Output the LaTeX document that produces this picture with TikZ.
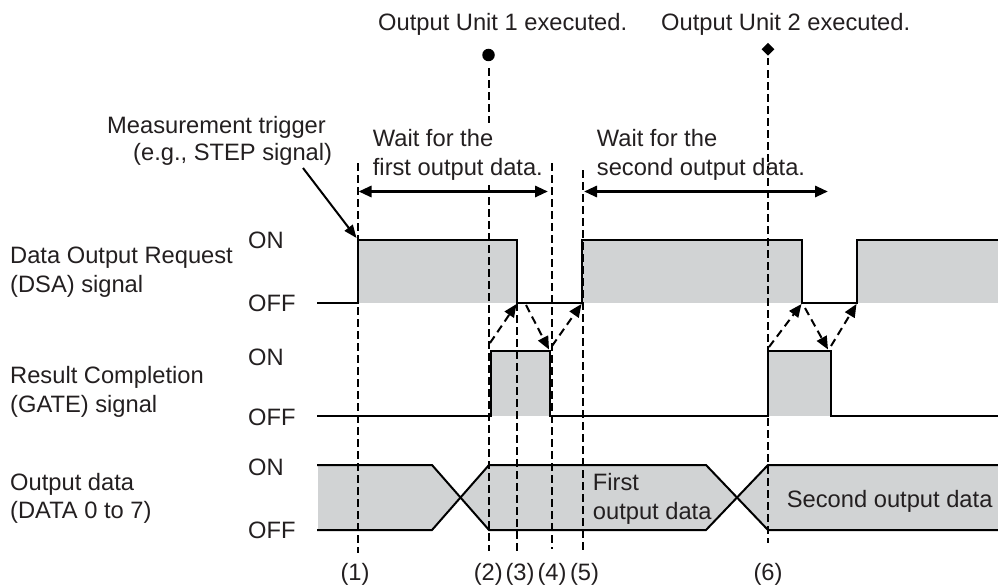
\documentclass[tikz,border=0pt]{standalone}
\usepackage{fontspec}
\setmainfont{Liberation Sans}
\usetikzlibrary{arrows.meta,shapes.geometric}
\definecolor{wavegray}{RGB}{209,211,212}
\definecolor{txt}{RGB}{35,31,32}
\begin{document}
\begin{tikzpicture}[x=1pt,y=-1pt,
  lbl/.style={inner sep=0pt, anchor=base west, text=txt, font=\fontsize{23.7}{28}\selectfont},
  num/.style={inner sep=0pt, anchor=base, text=txt, font=\fontsize{23.7}{28}\selectfont},
  wave/.style={line width=2pt, line join=miter, line cap=rect},
  band/.style={fill=wavegray},
  guide/.style={line width=1.9pt, dash pattern=on 7.5pt off 4.5pt},
  hand/.style={line width=2pt, dash pattern=on 8pt off 5pt, -{Triangle[length=13pt,width=11pt]}},
  span/.style={line width=3pt, {Triangle[length=13pt,width=11pt]}-{Triangle[length=13pt,width=11pt]}},
  trig/.style={line width=2pt, -{Triangle[length=13pt,width=10pt]}},
]
\useasboundingbox (0,0) rectangle (998,586);

% ---------- gray bands ----------
\fill[band] (358,240) rectangle (517,303);
\fill[band] (582,240) rectangle (802,303);
\fill[band] (857,240) rectangle (998,303);
\fill[band] (490.5,351) rectangle (550,416);
\fill[band] (768,351) rectangle (831,416);
\fill[band] (318,465) -- (432,465) -- (460.5,497.5) -- (432,530) -- (318,530) -- cycle;
\fill[band] (460.5,497.5) -- (489,465) -- (706,465) -- (737,497.5) -- (706,530) -- (489,530) -- cycle;
\fill[band] (737,497.5) -- (768,465) -- (998,465) -- (998,530) -- (768,530) -- cycle;

% ---------- waveforms ----------
\draw[wave] (318,303) -- (358,303) -- (358,240) -- (517,240) -- (517,303) -- (582,303) -- (582,240)
  -- (802,240) -- (802,303) -- (857,303) -- (857,240) -- (998,240);
\draw[wave] (318,416) -- (490.5,416) -- (490.5,351) -- (550,351) -- (550,416) -- (768,416) -- (768,351)
  -- (831,351) -- (831,416) -- (998,416);
\draw[wave] (318,465) -- (432,465) -- (489,530) -- (706,530) -- (768,465) -- (998,465);
\draw[wave] (318,530) -- (432,530) -- (489,465) -- (706,465) -- (768,530) -- (998,530);

% ---------- markers ----------
\node[circle, fill=black, inner sep=0pt, minimum size=12.5pt] (dot1) at (488.5,55) {};
\node[diamond, fill=black, inner sep=0pt, minimum size=13pt] (dia2) at (768,49.3) {};

% ---------- dashed guide lines ----------
\coordinate (g1t) at (358,163);   \coordinate (g1b) at (358,553);
\coordinate (g2t) at (488.7,68);  \coordinate (g2m) at (488.7,123);
\coordinate (g2n) at (488.7,185); \coordinate (g2b) at (488.7,551);
\coordinate (g3t) at (517,303);   \coordinate (g3b) at (517,551);
\coordinate (g4t) at (551.7,163); \coordinate (g4b) at (551.7,549);
\coordinate (g5t) at (582.7,170); \coordinate (g5b) at (582.7,552);
\coordinate (g6t) at (768,58);    \coordinate (g6b) at (768,543);
\draw[guide] (g1t) -- (g1b);
\draw[guide] (g2t) -- (g2m);
\draw[guide] (g2n) -- (g2b);
\draw[guide] (g3t) -- (g3b);
\draw[guide] (g4t) -- (g4b);
\draw[guide] (g5t) -- (g5b);
\draw[guide] (g6t) -- (g6b);

% ---------- handshake arrows ----------
\coordinate (h1s) at (490,343); \coordinate (h1e) at (516.5,304);
\coordinate (h2s) at (526,305); \coordinate (h2e) at (549,349.5);
\coordinate (h3s) at (552,346); \coordinate (h3e) at (581.5,304);
\coordinate (h4s) at (769,347); \coordinate (h4e) at (801.5,304);
\coordinate (h5s) at (805,308); \coordinate (h5e) at (828,349.5);
\coordinate (h6s) at (831,346); \coordinate (h6e) at (856.5,304);
\draw[hand] (h1s) -- (h1e);
\draw[hand] (h2s) -- (h2e);
\draw[hand] (h3s) -- (h3e);
\draw[hand] (h4s) -- (h4e);
\draw[hand] (h5s) -- (h5e);
\draw[hand] (h6s) -- (h6e);

% ---------- top texts ----------
\node[lbl] (u1) at (378,31) {Output Unit 1 executed.};
\node[lbl] (u2) at (661,31) {Output Unit 2 executed.};
\node[lbl] (mt1) at (107,133) {Measurement trigger};
\node[lbl] (mt2) at (133,160) {(e.g., STEP signal)};
\node[lbl] (w1a) at (372.7,146.7) {Wait for the};
\node[lbl] (w1b) at (372.7,175.7) {first output data.};
\node[lbl] (w2a) at (596.7,146.7) {Wait for the};
\node[lbl] (w2b) at (596.7,175.7) {second output data.};

% ---------- span arrows ----------
\coordinate (s1l) at (358.5,191.5); \coordinate (s1r) at (548,191.5);
\coordinate (s2l) at (584,191.5);   \coordinate (s2r) at (828,191.5);
\draw[span] (s1l) -- (s1r);
\draw[span] (s2l) -- (s2r);

% ---------- trigger arrow ----------
\coordinate (tgs) at (303,168); \coordinate (tge) at (356.5,238);
\draw[trig] (tgs) -- (tge);

% ---------- signal names ----------
\node[lbl] (n1a) at (10,263) {Data Output Request};
\node[lbl] (n1b) at (10,292) {(DSA) signal};
\node[lbl] (n2a) at (10,383) {Result Completion};
\node[lbl] (n2b) at (10,412) {(GATE) signal};
\node[lbl] (n3a) at (10,490) {Output data};
\node[lbl] (n3b) at (10,518) {(DATA 0 to 7)};

\node[lbl] (on1)  at (248,248) {ON};
\node[lbl] (off1) at (248,311) {OFF};
\node[lbl] (on2)  at (248,365) {ON};
\node[lbl] (off2) at (248,425) {OFF};
\node[lbl] (on3)  at (248,475) {ON};
\node[lbl] (off3) at (248,538) {OFF};

% ---------- data labels ----------
\node[lbl] (d1a) at (592.7,490.7) {First};
\node[lbl] (d1b) at (592.7,519) {output data};
\node[lbl] (d2)  at (786.7,507) {Second output data};

% ---------- step numbers ----------
\node[num] (k1) at (355,580) {(1)};
\node[num] (k2) at (488.3,580) {(2)};
\node[num] (k3) at (520,580) {(3)};
\node[num] (k4) at (552,580) {(4)};
\node[num] (k5) at (584.5,580) {(5)};
\node[num] (k6) at (768,580) {(6)};
\end{tikzpicture}
\end{document}
